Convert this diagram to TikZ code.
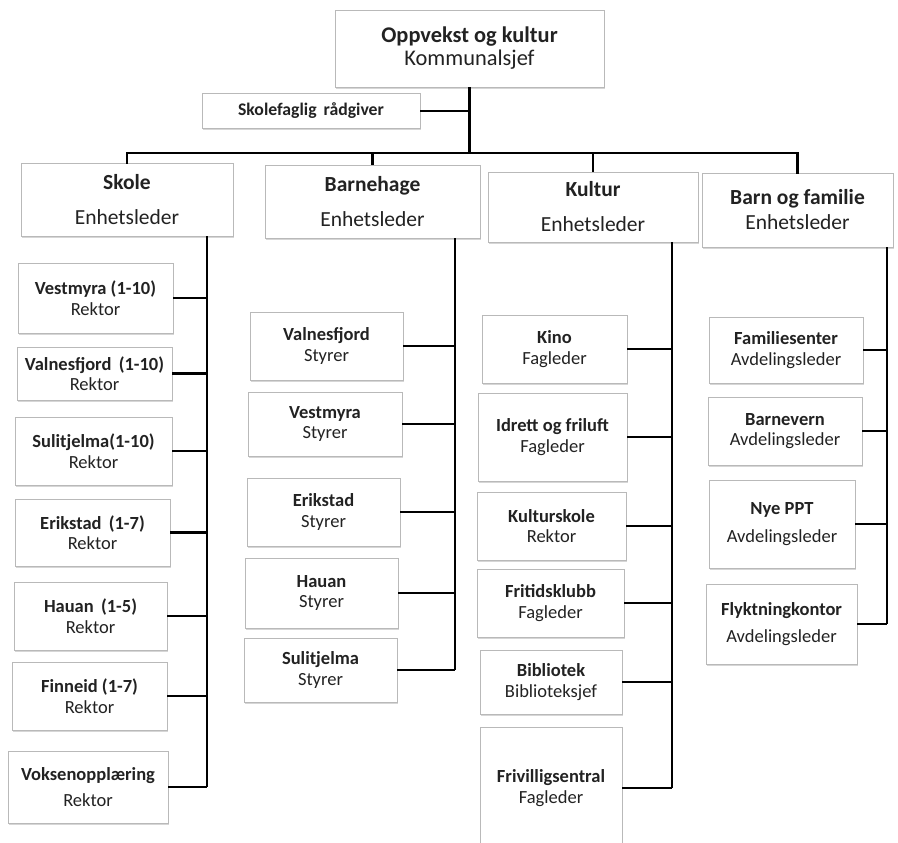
\documentclass[tikz,border=0pt]{standalone}
\usepackage{fontspec}
\setmainfont{Carlito}
\usetikzlibrary{shadows}
\definecolor{txt}{HTML}{222222}
\tikzset{
  box/.style={draw=gray!55, line width=0.6pt, fill=white, inner sep=0pt, align=center, text=txt,
    drop shadow={shadow xshift=0.6pt, shadow yshift=-1.6pt, opacity=0.45, fill=gray!70}},
  small/.style={box, font=\fontsize{18.5}{20.5}\selectfont},
  mid/.style={box, font=\fontsize{21.5}{35}\selectfont},
  midb/.style={box, font=\fontsize{21.5}{25}\selectfont},
  topb/.style={box, font=\fontsize{22.4}{23}\selectfont},
  conn/.style={line width=2.8pt, black},
}
% name, x1, y1, x2, y2, style, bold, regular
\newcommand\obox[8]{\node[#6, minimum width={(#4)-(#2)}, minimum height={(#5)-(#3)}] (#1) at ({((#2)+(#4))/2},{((#3)+(#5))/2}) {\textbf{#7}\\#8};}
\begin{document}
\begin{tikzpicture}[x=1pt,y=-1pt]
\useasboundingbox[fill=white] (0,0) rectangle (898,843);
% top
\obox{top}{335}{10}{604}{87}{topb}{Oppvekst og kultur}{Kommunalsjef}
\node[box, font=\fontsize{17.7}{20}\selectfont\bfseries, minimum width=218, minimum height=35] (skf) at (311,111) {Skolefaglig\, rådgiver};
% level 2
\obox{skole}{21}{163}{233}{236}{mid}{Skole}{Enhetsleder}
\obox{bhg}{265}{165}{480}{238}{mid}{Barnehage}{Enhetsleder}
\obox{kul}{488}{172}{698}{242}{mid}{Kultur}{Enhetsleder}
\obox{bof}{702}{173}{893}{247}{midb}{Barn og familie}{Enhetsleder}
% skole children
\obox{s1}{18}{263}{173}{333}{small}{Vestmyra (1-10)}{Rektor}
\obox{s2}{17}{347}{172}{400}{small}{Valnesfjord\, (1-10)}{Rektor}
\obox{s3}{15}{417}{172}{485}{small}{Sulitjelma(1-10)}{Rektor}
\obox{s4}{15}{499}{170}{566}{small}{Erikstad\, (1-7)}{Rektor}
\obox{s5}{14}{582}{167}{650}{small}{Hauan\, (1-5)}{Rektor}
\obox{s6}{12}{662}{167}{730}{small}{Finneid (1-7)}{Rektor}
\node[box, minimum width=160, minimum height=72, font=\fontsize{18.5}{26}\selectfont] (s7) at (88,787) {\textbf{Voksenopplæring}\\Rektor};
% barnehage children
\obox{b1}{250}{312}{403}{380}{small}{Valnesfjord}{Styrer}
\obox{b2}{248}{392}{402}{456}{small}{Vestmyra}{Styrer}
\obox{b3}{247}{478}{400}{546}{small}{Erikstad}{Styrer}
\obox{b4}{245}{558}{398}{628}{small}{Hauan}{Styrer}
\obox{b5}{244}{638}{397}{702}{small}{Sulitjelma}{Styrer}
% kultur children
\obox{k1}{482}{315}{627}{383}{small}{Kino}{Fagleder}
\obox{k2}{478}{393}{627}{481}{small}{Idrett og friluft}{Fagleder}
\obox{k3}{477}{492}{626}{560}{small}{Kulturskole}{Rektor}
\obox{k4}{477}{569}{624}{637}{small}{Fritidsklubb}{Fagleder}
\obox{k5}{480}{650}{622}{714}{small}{Bibliotek}{Biblioteksjef}
\obox{k6}{480}{727}{622}{849}{small}{Frivilligsentral}{Fagleder}
% barn og familie children
\obox{f1}{709}{317}{863}{383}{small}{Familiesenter}{Avdelingsleder}
\obox{f2}{708}{397}{862}{465}{small}{Barnevern}{Avdelingsleder}
\node[box, minimum width=146, minimum height=88, font=\fontsize{18.5}{28}\selectfont] (f3) at (782,524) {\textbf{Nye PPT}\\Avdelingsleder};
\node[box, minimum width=151, minimum height=80, font=\fontsize{18.5}{27}\selectfont] (f4) at (781.5,624) {\textbf{Flyktningkontor}\\Avdelingsleder};
% connectors top
\coordinate (bar) at (0,153);
\draw[conn] (top.south) -- (top.south |- bar);
\draw[conn] (skf.east) -- (skf.east -| top.south);
\draw[conn, line cap=rect] (skole.north) |- (bar -| bof.north) -- (bof.north);
\draw[conn] (bhg.north) -- (bhg.north |- bar);
\draw[conn] (kul.north) -- (kul.north |- bar);
% trunks
\coordinate (ts) at (207,236);
\coordinate (tb) at (455,238);
\coordinate (tk) at (672,242);
\coordinate (tf) at (887,247);
\draw[conn] (ts) -- (ts |- s7.east);
\draw[conn] (tb) -- (tb |- b5.east);
\draw[conn] (tk) -- (tk |- k6.east);
\draw[conn] (tf) -- (tf |- f4.east);
\foreach \c in {s1,s2,s3,s4,s5,s6,s7}{\draw[conn] (\c.east) -- (\c.east -| ts);}
\foreach \c in {b1,b2,b3,b4,b5}{\draw[conn] (\c.east) -- (\c.east -| tb);}
\foreach \c in {k1,k2,k3,k4,k5,k6}{\draw[conn] (\c.east) -- (\c.east -| tk);}
\foreach \c in {f1,f2,f3,f4}{\draw[conn] (\c.east) -- (\c.east -| tf);}
\end{tikzpicture}
\end{document}
